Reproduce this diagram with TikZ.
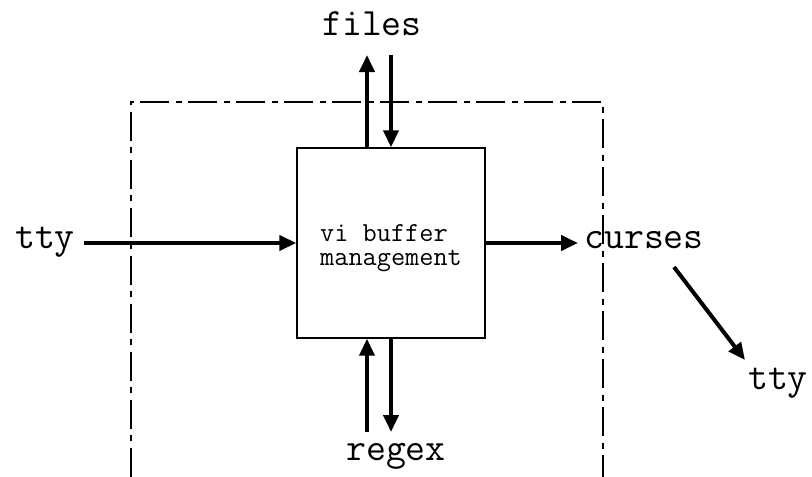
\documentclass[tikz,border=0pt]{standalone}
\usepackage{fontspec}
\usetikzlibrary{arrows.meta}
\begin{document}
\begin{tikzpicture}[x=1pt,y=-1pt,
  lbl/.style={font=\fontsize{38.7}{40}\selectfont\ttfamily, inner sep=0pt, anchor=base},
  boxstyle/.style={draw, line width=1.4pt, minimum width=188pt, minimum height=190pt, inner sep=0pt},
  boxtext/.style={inner sep=0pt, anchor=base west, font=\fontsize{27.5}{24}\selectfont\ttfamily},
  arr/.style={line width=4pt, -{Triangle[length=17pt,width=15pt]}},
  frame/.style={line width=1.3pt, dash pattern=on 29pt off 7pt on 6pt off 6pt}]
\useasboundingbox (0,0) rectangle (812,477);
% enclosing dash-dot frame (open at bottom)
\draw[frame] (131,477) -- (131,102) -- (603,102) -- (603,477);
% central box
\node[boxstyle] (box) at (391,243) {};
\node[boxtext] (bt1) at (320,241) {vi buffer};
\node[boxtext] (bt2) at (320,265) {management};
% labels
\node[lbl] (files) at (372,35) {files};
\node[lbl] (regex) at (396,460) {regex};
\node[lbl] (ttyL) at (45,248) {tty};
\node[lbl] (curses) at (644,248) {curses};
\node[lbl] (ttyR) at (778,389) {tty};
% free ends
\coordinate (fu) at (367,55);
\coordinate (fd) at (391,55);
\coordinate (ru) at (367,432);
\coordinate (rd) at (391,432);
\coordinate (ts) at (84,243);
\coordinate (ce) at (578,243);
\coordinate (cs) at (674,267);
\coordinate (te) at (745,360);
% connectors
\draw[arr] (fu |- box.north) -- (fu);
\draw[arr] (fd) -- (fd |- box.north);
\draw[arr] (ru) -- (ru |- box.south);
\draw[arr] (rd |- box.south) -- (rd);
\draw[arr] (ts) -- (box.west);
\draw[arr] (box.east) -- (ce);
\draw[arr] (cs) -- (te);
\end{tikzpicture}
\end{document}
